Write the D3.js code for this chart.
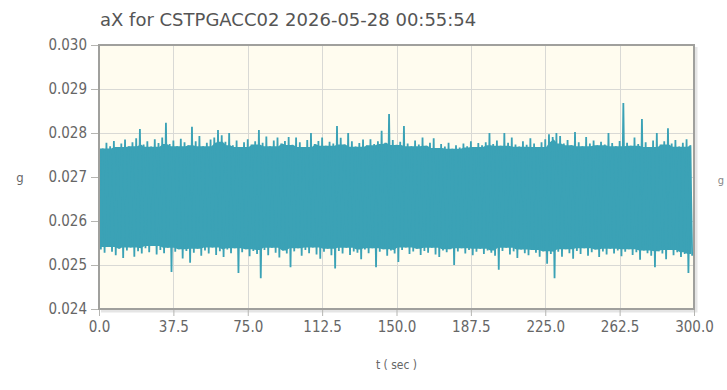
<!DOCTYPE html>
<html>
<head>
<meta charset="utf-8">
<script src="https://cdn.jsdelivr.net/npm/d3@7"></script>
<style>
  html, body { margin: 0; padding: 0; background: #ffffff; }
  svg { display: block; }
  text { font-family: "DejaVu Sans Condensed", "DejaVu Sans", sans-serif; font-stretch: condensed; }
</style>
</head>
<body>
<div id="chart"></div>
<script>
// Chart text
const titleText = "aX for CSTPGACC02 2026-05-28 00:55:54";
const xLabel = "t ( sec )";
const yLabel = "g";

// Axis ticks
const xTicks = [0, 37.5, 75, 112.5, 150, 187.5, 225, 262.5, 300];
const yTicks = [0.024, 0.025, 0.026, 0.027, 0.028, 0.029, 0.030];

// Record length (seconds) and per-interval signal peaks (g)
const duration = 300;
const upperPeaks = [
  0.02772, 0.02765, 0.02778, 0.02770, 0.02782, 0.02768, 0.02776, 0.02785, 0.02770, 0.02779,
  0.02788, 0.02809, 0.02774, 0.02781, 0.02769, 0.02786, 0.02777, 0.02790, 0.02823, 0.02775,
  0.02783, 0.02770, 0.02787, 0.02779, 0.02772, 0.02814, 0.02781, 0.02793, 0.02770, 0.02778,
  0.02785, 0.02790, 0.02807, 0.02795, 0.02780, 0.02800, 0.02772, 0.02783, 0.02768, 0.02779,
  0.02786, 0.02774, 0.02781, 0.02807, 0.02778, 0.02792, 0.02770, 0.02783, 0.02790, 0.02776,
  0.02782, 0.02791, 0.02773, 0.02790, 0.02779, 0.02768, 0.02784, 0.02800, 0.02775, 0.02782,
  0.02790, 0.02771, 0.02780, 0.02776, 0.02816, 0.02789, 0.02774, 0.02800, 0.02781, 0.02769,
  0.02777, 0.02785, 0.02772, 0.02786, 0.02775, 0.02781, 0.02805, 0.02778, 0.02843, 0.02784,
  0.02773, 0.02780, 0.02816, 0.02776, 0.02770, 0.02783, 0.02774, 0.02790, 0.02771, 0.02778,
  0.02788, 0.02766, 0.02775, 0.02769, 0.02778, 0.02764, 0.02772, 0.02767, 0.02776, 0.02770,
  0.02781, 0.02768, 0.02777, 0.02772, 0.02779, 0.02800, 0.02775, 0.02783, 0.02771, 0.02800,
  0.02778, 0.02790, 0.02774, 0.02769, 0.02781, 0.02773, 0.02788, 0.02776, 0.02768, 0.02779,
  0.02786, 0.02797, 0.02791, 0.02800, 0.02793, 0.02776, 0.02784, 0.02772, 0.02802, 0.02779,
  0.02770, 0.02791, 0.02776, 0.02783, 0.02772, 0.02780, 0.02774, 0.02800, 0.02777, 0.02770,
  0.02782, 0.02868, 0.02778, 0.02771, 0.02790, 0.02775, 0.02832, 0.02779, 0.02768, 0.02783,
  0.02800, 0.02774, 0.02781, 0.02811, 0.02776, 0.02784, 0.02769, 0.02778, 0.02786, 0.02772
];
const lowerPeaks = [
  0.02535, 0.02528, 0.02541, 0.02530, 0.02522, 0.02537, 0.02516, 0.02533, 0.02540, 0.02519,
  0.02531, 0.02526, 0.02538, 0.02529, 0.02543, 0.02524, 0.02534, 0.02527, 0.02539, 0.02484,
  0.02530, 0.02536, 0.02515, 0.02532, 0.02505, 0.02528, 0.02537, 0.02521, 0.02533, 0.02526,
  0.02540, 0.02523, 0.02531, 0.02518, 0.02535, 0.02527, 0.02538, 0.02482, 0.02529, 0.02536,
  0.02520, 0.02532, 0.02525, 0.02470, 0.02534, 0.02522, 0.02539, 0.02528, 0.02517, 0.02533,
  0.02526, 0.02495, 0.02531, 0.02538, 0.02521, 0.02534, 0.02527, 0.02540, 0.02524, 0.02514,
  0.02530, 0.02537, 0.02522, 0.02492, 0.02532, 0.02526, 0.02539, 0.02523, 0.02531, 0.02528,
  0.02513, 0.02535, 0.02527, 0.02538, 0.02495, 0.02530, 0.02536, 0.02521, 0.02533, 0.02526,
  0.02507, 0.02534, 0.02540, 0.02525, 0.02531, 0.02537, 0.02523, 0.02532, 0.02528, 0.02539,
  0.02524, 0.02518, 0.02533, 0.02529, 0.02536, 0.02500, 0.02531, 0.02538, 0.02526, 0.02534,
  0.02522, 0.02530, 0.02537, 0.02525, 0.02533, 0.02528, 0.02521, 0.02489, 0.02532, 0.02539,
  0.02524, 0.02531, 0.02516, 0.02535, 0.02527, 0.02522, 0.02534, 0.02528, 0.02519, 0.02531,
  0.02503, 0.02525, 0.02470, 0.02530, 0.02519, 0.02536, 0.02527, 0.02514, 0.02532, 0.02525,
  0.02538, 0.02521, 0.02529, 0.02535, 0.02518, 0.02531, 0.02524, 0.02537, 0.02526, 0.02533,
  0.02520, 0.02530, 0.02536, 0.02523, 0.02529, 0.02512, 0.02533, 0.02527, 0.02521, 0.02495,
  0.02531, 0.02526, 0.02513, 0.02534, 0.02522, 0.02529, 0.02518, 0.02525, 0.02482, 0.02521
];

const step = duration / upperPeaks.length;

// Signal trace: each interval swings from its upper peak down to its lower peak
const samples = [];
upperPeaks.forEach((hi, i) => {
  samples.push({ t: i * step, v: hi });
  samples.push({ t: i * step + step / 2, v: lowerPeaks[i] });
});

// Dense body of the trace: the band that all nearby swings cover
const reach = 2;
const body = upperPeaks.map((hi, i) => {
  const a = Math.max(0, i - reach), b = Math.min(upperPeaks.length - 1, i + reach);
  return {
    t: i * step + step / 4,
    hi: d3.min(upperPeaks.slice(a, b + 1)),
    lo: d3.max(lowerPeaks.slice(a, b + 1))
  };
});

const W = 727, H = 390;
const plot = { left: 99, right: 694, top: 45, bottom: 309 };
const traceColor = "#3ba2b6";

const svg = d3.select("#chart").append("svg")
  .attr("width", W).attr("height", H);

const x = d3.scaleLinear().domain([0, 300]).range([plot.left, plot.right]);
const y = d3.scaleLinear().domain([0.024, 0.030]).range([plot.bottom, plot.top]);

// Grid background
svg.append("rect")
  .attr("x", plot.left).attr("y", plot.top)
  .attr("width", plot.right - plot.left).attr("height", plot.bottom - plot.top)
  .attr("fill", "#fffcef");

// Grid lines
const grid = svg.append("g").attr("stroke", "#d9d9d5").attr("stroke-width", 1);
grid.selectAll("line.v").data(xTicks.slice(1, -1)).join("line")
  .attr("x1", d => Math.round(x(d)) + 0.5).attr("x2", d => Math.round(x(d)) + 0.5)
  .attr("y1", plot.top).attr("y2", plot.bottom);
grid.selectAll("line.h").data(yTicks.slice(1, -1)).join("line")
  .attr("y1", d => Math.round(y(d)) + 0.5).attr("y2", d => Math.round(y(d)) + 0.5)
  .attr("x1", plot.left).attr("x2", plot.right);

// Signal
svg.append("clipPath").attr("id", "plotClip").append("rect")
  .attr("x", plot.left).attr("y", plot.top)
  .attr("width", plot.right - plot.left).attr("height", plot.bottom - plot.top);

const trace = svg.append("g").attr("clip-path", "url(#plotClip)");

trace.append("path")
  .datum(body)
  .attr("fill", traceColor)
  .attr("d", d3.area().x(d => x(d.t)).y0(d => y(d.lo)).y1(d => y(d.hi)));

trace.append("path")
  .datum(samples)
  .attr("fill", "none")
  .attr("stroke", traceColor)
  .attr("stroke-width", 1.8)
  .attr("d", d3.line().x(d => x(d.t)).y(d => y(d.v)));

// Frame with soft shadow on the right and bottom
svg.append("path")
  .attr("d", `M${plot.right + 2},${plot.top + 2} V${plot.bottom + 2} H${plot.left + 2}`)
  .attr("fill", "none").attr("stroke", "rgba(0,0,0,0.10)").attr("stroke-width", 3);
svg.append("rect")
  .attr("x", plot.left).attr("y", plot.top)
  .attr("width", plot.right - plot.left).attr("height", plot.bottom - plot.top)
  .attr("fill", "none").attr("stroke", "#a0a09d").attr("stroke-width", 2);

// Axes
const xAxis = d3.axisBottom(x).tickValues(xTicks).tickFormat(d3.format(".1f"))
  .tickSize(6).tickPadding(5);
const yAxis = d3.axisLeft(y).tickValues(yTicks).tickFormat(d3.format(".3f"))
  .tickSize(7).tickPadding(4);

const gx = svg.append("g").attr("transform", `translate(0,${plot.bottom + 1})`).call(xAxis);
const gy = svg.append("g").attr("transform", `translate(${plot.left - 1},0)`).call(yAxis);
[gx, gy].forEach(g => {
  g.select(".domain").remove();
  g.selectAll(".tick line").attr("stroke", "#b5b5b2");
  g.selectAll(".tick text").attr("fill", "#666666").style("font-size", "15px");
});

// Title and axis labels
svg.append("text")
  .attr("x", 100).attr("y", 26)
  .attr("fill", "#555555")
  .style("font-family", "'DejaVu Sans', sans-serif")
  .style("font-stretch", "normal")
  .style("font-size", "18px")
  .text(titleText);

svg.append("text")
  .attr("x", (plot.left + plot.right) / 2).attr("y", 369)
  .attr("text-anchor", "middle")
  .attr("fill", "#666666")
  .style("font-size", "12px")
  .text(xLabel);

svg.append("text")
  .attr("x", 20).attr("y", 182)
  .attr("text-anchor", "middle")
  .attr("fill", "#666666")
  .style("font-size", "13px")
  .text(yLabel);

// Axis label of the neighbouring panel at the right edge
svg.append("text")
  .attr("x", 724).attr("y", 184)
  .attr("text-anchor", "end")
  .attr("fill", "#888888")
  .style("font-size", "11px")
  .text(yLabel);
</script>
</body>
</html>
